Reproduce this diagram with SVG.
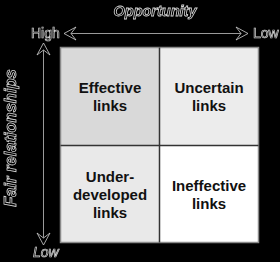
<svg xmlns="http://www.w3.org/2000/svg" width="280" height="262" viewBox="0 0 280 262">
<style>
.ax{font-family:"Liberation Sans",Arial,sans-serif;fill:#000;stroke:#d8d8d8;stroke-width:0.7}
.axb{font-family:"Liberation Sans",Arial,sans-serif;font-weight:bold;font-style:italic;fill:#000;stroke:#d8d8d8;stroke-width:0.8}
.q{font-family:"Liberation Sans",Arial,sans-serif;font-weight:bold;font-size:15px;fill:#111;text-anchor:middle}
.ah{fill:#000;stroke:#d0d0d0;stroke-width:0.8;stroke-linejoin:miter}
.ln{stroke:#9a9a9a;stroke-width:1;fill:none}
.div{stroke:#333;stroke-width:1.5}
</style>
<rect width="280" height="262" fill="#000"/>
<g id="quadrant-effective">
<rect x="60.5" y="47.5" width="99" height="98" fill="#d9d9d9"/>
<text class="q" x="110" y="93">Effective</text>
<text class="q" x="110" y="111">links</text>
</g>
<g id="quadrant-uncertain">
<rect x="159.5" y="47.5" width="99" height="98" fill="#ececec"/>
<text class="q" x="209" y="93">Uncertain</text>
<text class="q" x="209" y="111">links</text>
</g>
<g id="quadrant-underdeveloped">
<rect x="60.5" y="145.5" width="99" height="97" fill="#e9e9e9"/>
<text class="q" x="110" y="182">Under-</text>
<text class="q" x="110" y="200">developed</text>
<text class="q" x="110" y="218">links</text>
</g>
<g id="quadrant-ineffective">
<rect x="159.5" y="145.5" width="99" height="97" fill="#ffffff"/>
<text class="q" x="209" y="191">Ineffective</text>
<text class="q" x="209" y="209">links</text>
</g>
<g id="grid-lines">
<rect x="60.5" y="47.5" width="198" height="195" fill="none" stroke="#8a8a8a" stroke-width="1.5"/>
<line class="div" x1="159.5" y1="47.5" x2="159.5" y2="242.5"/>
<line class="div" x1="60.5" y1="145.5" x2="258.5" y2="145.5"/>
</g>
<g id="connectors">
<line class="ln" x1="71" y1="33.5" x2="241" y2="33.5"/>
<polygon class="ah" points="64,33.5 76,27 71,33.5 76,40"/>
<polygon class="ah" points="248,33.5 236,27 241,33.5 236,40"/>
<line class="ln" x1="43.5" y1="50" x2="43.5" y2="238"/>
<polygon class="ah" points="43.5,43 37,55 43.5,50 50,55"/>
<polygon class="ah" points="43.5,245 37,233 43.5,238 50,233"/>
</g>
<g id="axis-labels" opacity="0.99">
<text class="axb" x="155" y="16" text-anchor="middle" font-size="14.5">Opportunity</text>
<text class="axb" transform="translate(16,138) rotate(-90)" text-anchor="middle" font-size="16.5">Fair relationships</text>
<text class="ax" x="31" y="38" font-size="14">High</text>
<text class="ax" x="253" y="38" font-size="14">Low</text>
<text class="ax" x="33" y="257" font-size="14" font-style="italic">Low</text>
</g>
</svg>
